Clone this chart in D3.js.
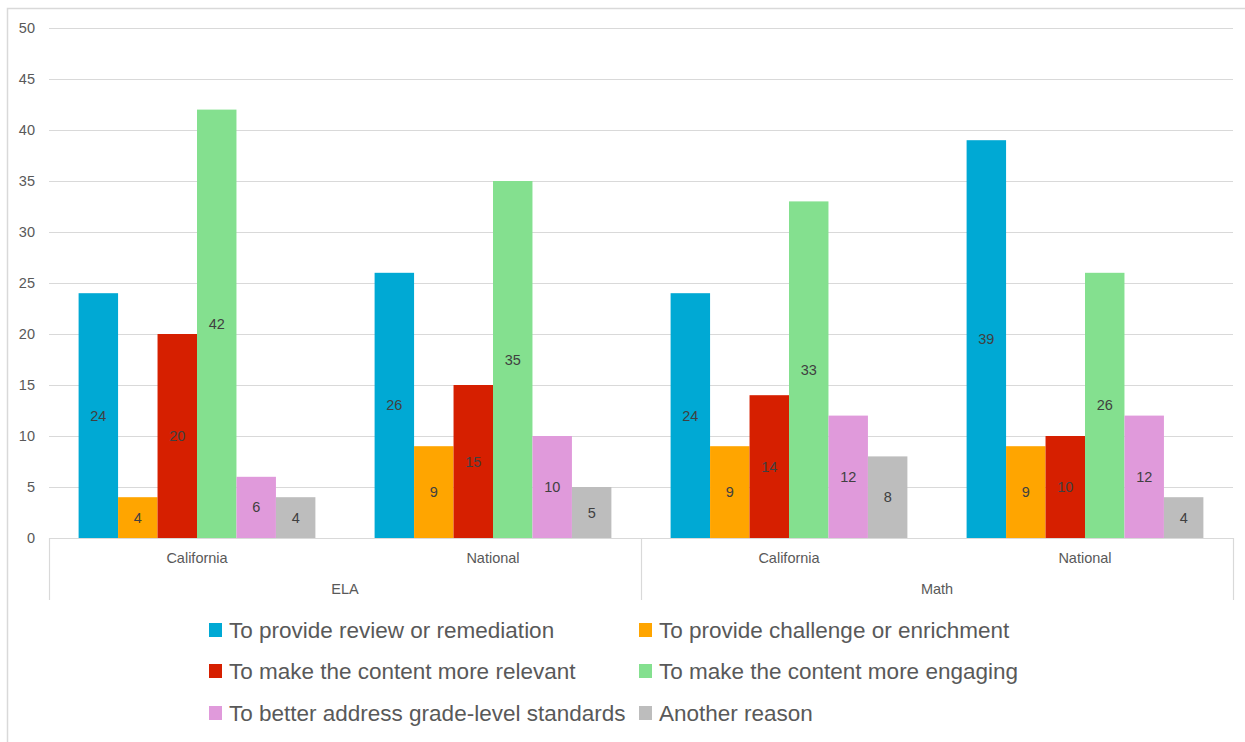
<!DOCTYPE html>
<html><head><meta charset="utf-8">
<script src="https://cdn.jsdelivr.net/npm/d3@7"></script>
<style>
html,body{margin:0;padding:0;background:#fff;}
svg{display:block;}
</style></head>
<body>
<svg id="chart" width="1245" height="742"></svg>
<script>
const groups = ["ELA", "Math"];
const subgroups = ["California", "National"];
const seriesNames = [
  "To provide review or remediation",
  "To provide challenge or enrichment",
  "To make the content more relevant",
  "To make the content more engaging",
  "To better address grade-level standards",
  "Another reason"
];
const seriesColors = ["#00A9D4", "#FFA500", "#D61F00", "#84E08F", "#E09ADB", "#BDBDBD"];
// values per series, order: ELA-California, ELA-National, Math-California, Math-National
const reviewVals     = [24, 26, 24, 39];
const challengeVals  = [4, 9, 9, 9];
const relevantVals   = [20, 15, 14, 10];
const engagingVals   = [42, 35, 33, 26];
const standardsVals  = [6, 10, 12, 12];
const anotherVals    = [4, 5, 8, 4];
const yTicks = [0, 5, 10, 15, 20, 25, 30, 35, 40, 45, 50];

const seriesValues = [reviewVals, challengeVals, relevantVals, engagingVals, standardsVals, anotherVals];
const cats = [];
groups.forEach(g => subgroups.forEach(s => cats.push(g + "|" + s)));

const svg = d3.select("#chart");
const pL = 49, pR = 1233, pT = 28, pB = 538;
const labelFont = "'Liberation Sans', Arial, sans-serif";

// outer border
svg.append("rect").attr("x", 7.5).attr("y", 8.5).attr("width", 1250).attr("height", 760)
  .attr("fill", "none").attr("stroke", "#d9d9d9").attr("stroke-width", 1.5);

const x0 = d3.scaleBand().domain(cats).range([pL, pR]).padding(0);
const x1 = d3.scaleBand().domain(d3.range(seriesNames.length)).range([0, x0.bandwidth()])
  .paddingInner(0).paddingOuter(0.75);
const y = d3.scaleLinear().domain([0, 50]).range([pB, pT]);

// gridlines + y axis
const yAxis = svg.append("g").attr("transform", `translate(${pL},0)`)
  .call(d3.axisLeft(y).tickValues(yTicks).tickSize(-(pR - pL)).tickPadding(14));
yAxis.select(".domain").remove();
yAxis.selectAll(".tick line").attr("stroke", "#d9d9d9").attr("stroke-width", 1);
yAxis.selectAll(".tick text").attr("fill", "#595959").style("font-family", labelFont).style("font-size", "14.5px");

// bars
const catG = svg.append("g").selectAll("g").data(cats).join("g")
  .attr("transform", d => `translate(${x0(d)},0)`);
catG.each(function(c, ci) {
  const g = d3.select(this);
  seriesValues.forEach((vals, si) => {
    const v = vals[ci];
    g.append("rect").attr("x", x1(si)).attr("y", y(v))
      .attr("width", x1.bandwidth()).attr("height", y(0) - y(v))
      .attr("fill", seriesColors[si]);
    g.append("text").attr("x", x1(si) + x1.bandwidth() / 2).attr("y", (y(v) + y(0)) / 2)
      .attr("text-anchor", "middle").attr("dy", "0.35em")
      .attr("fill", "#404040").style("font-family", labelFont).style("font-size", "14.5px")
      .text(v);
  });
});

// category axis
const axisColor = "#d9d9d9";
svg.append("line").attr("x1", pL).attr("x2", pR).attr("y1", pB + 0.5).attr("y2", pB + 0.5)
  .attr("stroke", axisColor).attr("stroke-width", 1.2);
const groupScale = d3.scaleBand().domain(groups).range([pL, pR]);
const sepXs = [pL, groupScale("Math"), pR];
sepXs.forEach(xx => {
  svg.append("line").attr("x1", xx + 0.5).attr("x2", xx + 0.5).attr("y1", pB).attr("y2", 600)
    .attr("stroke", axisColor).attr("stroke-width", 1.2);
});
cats.forEach(c => {
  svg.append("text").attr("x", x0(c) + x0.bandwidth() / 2).attr("y", 558).attr("dy", "0.35em")
    .attr("text-anchor", "middle").attr("fill", "#595959")
    .style("font-family", labelFont).style("font-size", "14.5px").text(c.split("|")[1]);
});
groups.forEach(g => {
  svg.append("text").attr("x", groupScale(g) + groupScale.bandwidth() / 2).attr("y", 589).attr("dy", "0.35em")
    .attr("text-anchor", "middle").attr("fill", "#595959")
    .style("font-family", labelFont).style("font-size", "14.5px").text(g);
});

// legend
const legCols = [209, 639];
const legRows = [630, 671, 713];
const leg = svg.append("g");
seriesNames.forEach((name, i) => {
  const cx = legCols[i % 2], cy = legRows[Math.floor(i / 2)];
  leg.append("rect").attr("x", cx).attr("y", cy - 7).attr("width", 13).attr("height", 14)
    .attr("fill", seriesColors[i]);
  leg.append("text").attr("x", cx + 20).attr("y", cy).attr("dy", "0.35em")
    .attr("fill", "#595959").style("font-family", labelFont).style("font-size", "22.5px").text(name);
});
</script>
</body></html>
